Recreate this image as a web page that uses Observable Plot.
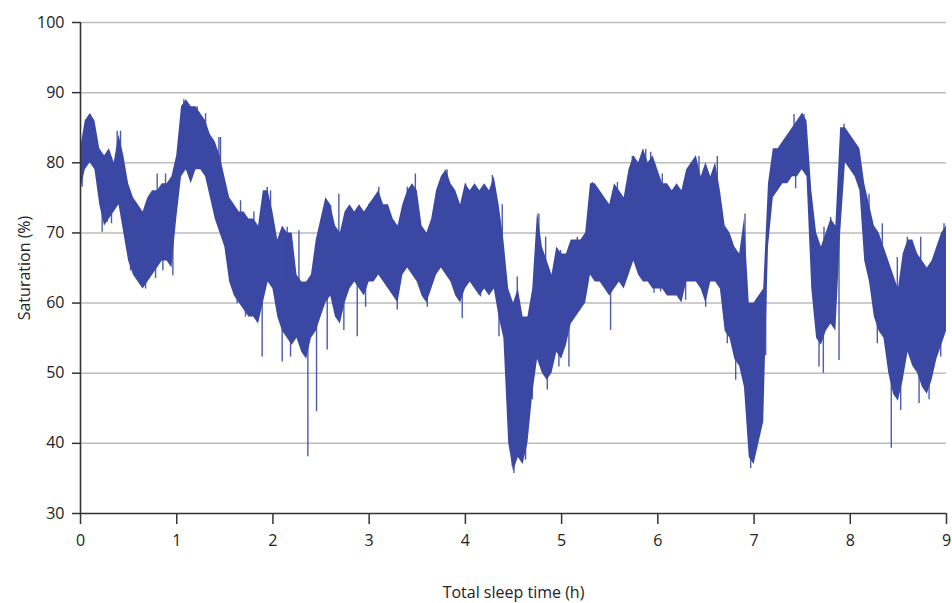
<!DOCTYPE html>
<html>
<head>
<meta charset="utf-8">
<script src="https://cdn.jsdelivr.net/npm/d3@7"></script>
<script src="https://cdn.jsdelivr.net/npm/@observablehq/plot@0.6"></script>
<style>
  html, body { margin: 0; padding: 0; background: #fff; }
  #chart { width: 952px; height: 603px; }
  svg { font-family: "Open Sans", sans-serif; }
</style>
</head>
<body>
<div id="chart"></div>
<script>
// Sample step of the envelope readings (hours)
const timeStep = 0.05;
// Lower edge of the dense saturation band, read every 0.05 h from 0 to 9 h
const bandLow = [
  76,79,80,79,74,71,72,73,74,70, 66,64,63,62,63,64,65,66,66,65,
  72,78,79,77,79,79,78,75,72,70, 68,63,61,60,59,58,58,57,60,63,
  62,58,56,55,54,55,53,52,55,56, 58,60,61,58,57,60,62,63,62,61,
  63,63,64,63,62,61,60,64,65,64, 63,61,60,62,64,65,64,63,61,60,
  62,63,62,61,62,61,62,58,55,40, 36,38,37,40,47,52,50,49,50,53,
  52,54,57,58,59,60,64,63,63,62, 61,62,63,62,64,66,64,63,63,62,
  62,62,61,61,61,60,63,63,63,62, 60,63,63,62,56,55,52,51,48,38,
  37,40,43,68,75,76,77,77,78,78, 79,78,62,55,54,56,57,56,70,80,
  79,78,76,66,63,58,56,55,50,47, 46,49,53,51,50,48,47,49,52,54,
  56
];
// Upper edge of the dense saturation band, same times
const bandHigh = [
  82,86,87,86,82,81,82,80,84,81, 77,75,74,73,75,76,76,77,77,78,
  81,88,89,88,88,87,86,84,83,81, 78,75,74,73,73,72,72,71,76,76,
  73,69,71,70,70,64,63,63,64,69, 72,75,74,71,70,73,74,73,74,73,
  74,75,76,74,74,72,71,74,76,77, 76,71,70,72,76,78,79,77,76,74,
  77,76,77,76,77,76,78,74,69,62, 60,62,58,58,62,73,68,66,64,68,
  67,67,69,69,69,70,77,77,76,75, 74,77,76,75,79,81,80,82,80,81,
  79,77,77,76,77,76,79,80,81,78, 80,78,80,76,71,70,68,67,72,60,
  60,61,62,77,82,82,83,84,85,86, 87,86,76,70,68,70,72,71,85,85,
  84,83,82,77,74,71,70,68,66,64, 62,67,69,69,67,66,65,66,68,70,
  71
];
// Isolated excursions beyond the band: time (h) and tip value (%)
const spikeTime = [
  0.017,0.104,0.225,0.277,0.322,0.381,0.416,0.52,0.676,0.78,0.797,0.856,0.884,0.96,1.074,1.143,1.178,1.213,1.30,1.438,1.473,
  1.455,1.628,1.663,1.715,1.802,1.819,1.888,1.94,1.975,2.096,2.148,2.183,2.27,2.363,2.453,2.564,2.60,2.685,2.737,2.876,2.997,
  2.963,3.10,3.292,3.396,3.48,3.604,3.707,3.81,3.967,4.002,4.106,4.158,4.28,4.349,4.383,4.487,
  4.505,4.539,4.626,4.695,4.764,4.834,4.851,4.972,4.99,5.076,5.163,5.319,5.509,5.58,5.735,5.874,5.926,5.96,
  6.029,6.046,6.289,6.428,6.497,6.618,6.722,6.809,6.906,6.965,7.086,7.121,7.242,7.415,7.432,7.502,
  7.519,7.675,7.72,7.727,7.796,7.883,7.935,8.195,8.281,8.333,8.426,8.489,8.524,8.593,8.715,8.732,8.819,8.94,8.974
];
const spikeTip = [
  76.5,86.9,70.1,71.5,71.3,84.5,84.5,64.6,62,63.5,78.4,64.6,78.4,63.9,89,88,78.9,88,87,83.6,69.9,
  83.6,59.9,74.6,58,73,57.8,52.3,76.5,76,51.6,70.8,52.3,70.3,38.1,44.5,53.3,73.9,75.5,56.1,55.2,74.1,
  59.4,76.5,59,76.5,78.4,59.4,75.5,79,57.8,77,76.5,60.9,78.2,55.2,74,36.7,
  35.7,63.7,37.6,46.2,72.7,69.4,47.6,50.9,67.5,50.9,69.4,77.2,56.1,77.2,80.9,81.9,81.5,61.4,
  61.6,78.4,60.4,80.9,59.4,80.9,54.2,49,72.7,36.4,42.8,61.8,76,86.9,76.3,87,
  86.9,50.9,50,70.8,72.2,51.8,85.5,75.5,54.2,71.3,39.3,66.5,44.7,69.4,45.7,69.4,46.2,52.3,71.3
];

const xTicks = [0,1,2,3,4,5,6,7,8,9];
const yTicks = [30,40,50,60,70,80,90,100];

const rows = bandLow.map((lo, i) => ({t: i * timeStep, lo, hi: bandHigh[i]}));
const spikes = spikeTime.map((t, i) => {
  const k = Math.min(bandLow.length - 1, Math.round(t / timeStep));
  return {t, base: (bandLow[k] + bandHigh[k]) / 2, tip: spikeTip[i]};
});

const blue = "#3b48a3";
const axisColor = "#333";

const chart = Plot.plot({
  width: 952,
  height: 603,
  marginLeft: 80,
  marginRight: 6,
  marginTop: 22,
  marginBottom: 90,
  style: {fontFamily: "'Open Sans', sans-serif", fontSize: "16px", color: "#222", background: "#fff"},
  x: {domain: [0, 9], ticks: xTicks, label: null},
  y: {domain: [30, 100], ticks: yTicks, label: null},
  marks: [
    Plot.gridY(yTicks.filter(v => v > 30), {stroke: "#bcbcbc", strokeOpacity: 1, strokeWidth: 1.5}),
    Plot.areaY(rows, {x: "t", y1: "lo", y2: "hi", fill: blue, curve: "linear"}),
    Plot.ruleX(spikes, {x: "t", y1: "base", y2: "tip", stroke: blue, strokeWidth: 1.4, strokeOpacity: 0.9}),
    Plot.ruleX([0], {stroke: axisColor, strokeWidth: 1.6}),
    Plot.ruleY([30], {stroke: axisColor, strokeWidth: 1.6}),
    Plot.axisY({ticks: yTicks, tickSize: 8, tickPadding: 8, stroke: axisColor, strokeWidth: 1.5,
      label: "Saturation (%)", labelAnchor: "center", labelArrow: "none", labelOffset: 62}),
    Plot.axisX({ticks: xTicks, tickSize: 11, tickPadding: 10, stroke: axisColor, strokeWidth: 1.5,
      label: "Total sleep time (h)", labelAnchor: "center", labelArrow: "none", labelOffset: 84})
  ]
});
document.getElementById("chart").appendChild(chart);
</script>
</body>
</html>
